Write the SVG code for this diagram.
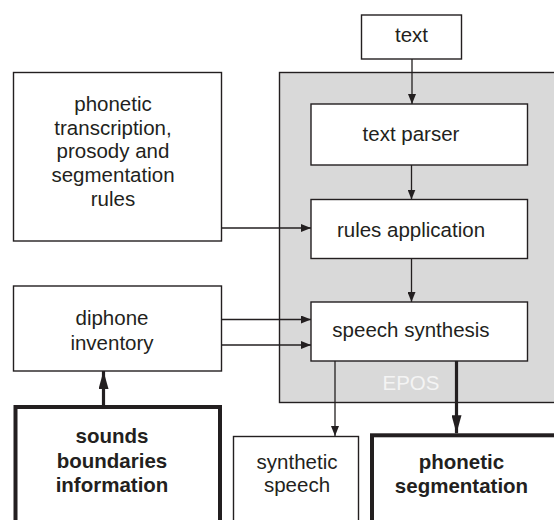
<svg xmlns="http://www.w3.org/2000/svg" width="554" height="520" viewBox="0 0 554 520">
<defs>
<style>
.box{fill:#fff;stroke:#231f20;stroke-width:1.4}
.bold{fill:#fff;stroke:#231f20;stroke-width:4}
.t{font-family:"Liberation Sans",Arial,sans-serif;font-size:20.5px;fill:#231f20;text-anchor:middle}
.b{font-weight:bold}
.ln{stroke:#231f20;stroke-width:1.3;fill:none}
.thk{stroke:#231f20;stroke-width:3.2;fill:none}
</style>
<marker id="ah" markerUnits="userSpaceOnUse" markerWidth="10" markerHeight="8" refX="10" refY="4" orient="auto">
<path d="M0,0 L10,4 L0,8 Z" fill="#231f20"/>
</marker>
<marker id="ahb" markerUnits="userSpaceOnUse" markerWidth="18" markerHeight="10" refX="18" refY="5" orient="auto">
<path d="M0,0 L18,5 L0,10 Z" fill="#231f20"/>
</marker>
</defs>
<rect x="0" y="0" width="554" height="520" fill="#fff"/>
<g id="epos">
<rect x="279.5" y="72.5" width="290" height="330" fill="#d9d9d9" stroke="#231f20" stroke-width="1.4"/>
<text class="t" x="411" y="390" style="fill:#f4f4f4">EPOS</text>
</g>
<g id="text">
<rect class="box" x="361.5" y="15" width="100" height="44"/>
<text class="t" x="411.5" y="42">text</text>
</g>
<g id="parser">
<rect class="box" x="311" y="104" width="216.5" height="61"/>
<text class="t" x="411" y="141">text parser</text>
</g>
<g id="rules">
<rect class="box" x="311" y="199.5" width="216.5" height="59"/>
<text class="t" x="411" y="237">rules application</text>
</g>
<g id="synthesis">
<rect class="box" x="311" y="302" width="216.5" height="59"/>
<text class="t" x="411" y="337">speech synthesis</text>
</g>
<g id="phonetic-rules">
<rect class="box" x="13.5" y="72.5" width="208" height="168.5"/>
<text class="t" x="113" y="111">phonetic</text>
<text class="t" x="113" y="134.5">transcription,</text>
<text class="t" x="113" y="158">prosody and</text>
<text class="t" x="113" y="182">segmentation</text>
<text class="t" x="113" y="205.5">rules</text>
</g>
<g id="diphone">
<rect class="box" x="13.5" y="286" width="208" height="85"/>
<text class="t" x="112" y="324.5">diphone</text>
<text class="t" x="112" y="349.5">inventory</text>
</g>
<g id="sounds">
<rect class="bold" x="15.5" y="407" width="204.5" height="130"/>
<text class="t b" x="112" y="443">sounds</text>
<text class="t b" x="112" y="467.5">boundaries</text>
<text class="t b" x="112" y="492">information</text>
</g>
<g id="synthetic">
<rect class="box" x="233.5" y="436.5" width="125" height="100"/>
<text class="t" x="297" y="468.5">synthetic</text>
<text class="t" x="297" y="492">speech</text>
</g>
<g id="segmentation">
<rect class="bold" x="372" y="435.3" width="200" height="100"/>
<text class="t b" x="461.5" y="469">phonetic</text>
<text class="t b" x="461.5" y="492.5">segmentation</text>
</g>
<g id="connectors">
<line class="ln" x1="412" y1="59" x2="412" y2="104" marker-end="url(#ah)"/>
<line class="ln" x1="411.5" y1="165" x2="411.5" y2="199.5" marker-end="url(#ah)"/>
<line class="ln" x1="411.5" y1="258.5" x2="411.5" y2="302" marker-end="url(#ah)"/>
<line class="ln" x1="221.5" y1="228" x2="311" y2="228" marker-end="url(#ah)"/>
<line class="ln" x1="221.5" y1="319.5" x2="311" y2="319.5" marker-end="url(#ah)"/>
<line class="ln" x1="221.5" y1="345" x2="311" y2="345" marker-end="url(#ah)"/>
<line class="ln" x1="335" y1="361" x2="335" y2="436" marker-end="url(#ah)"/>
<line class="thk" x1="103.5" y1="405" x2="103.5" y2="371" marker-end="url(#ahb)"/>
<line class="thk" x1="456.5" y1="361" x2="456.5" y2="433.3" marker-end="url(#ahb)"/>
</g>
</svg>
